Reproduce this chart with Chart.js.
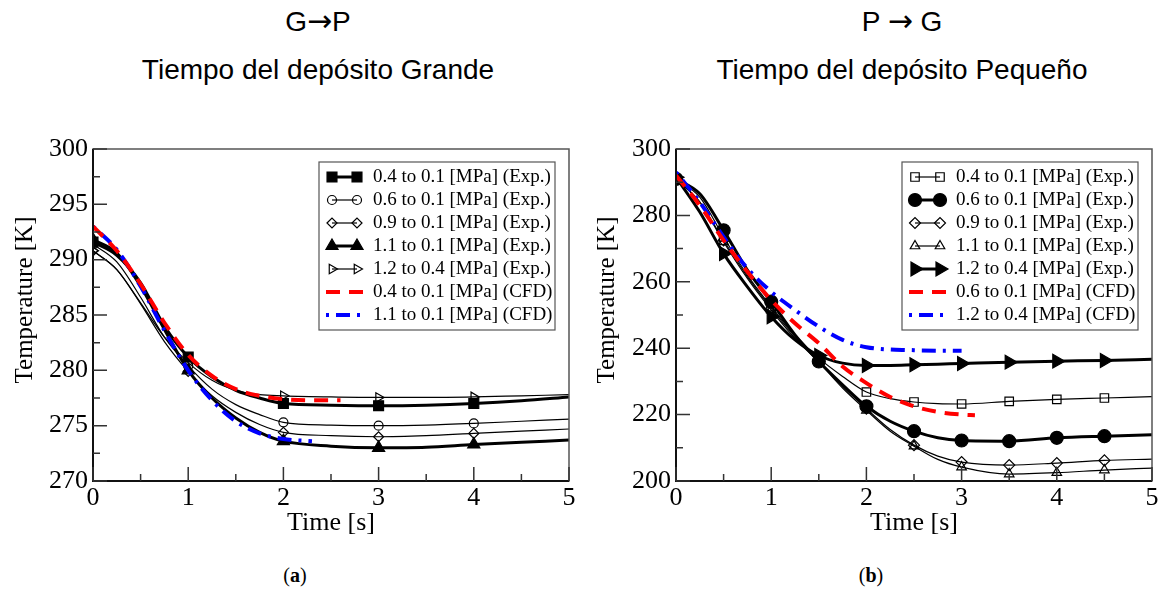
<!DOCTYPE html>
<html>
<head>
<meta charset="utf-8">
<script src="https://cdn.jsdelivr.net/npm/chart.js@4.4.0/dist/chart.umd.min.js"></script>
<style>
  body { margin: 0; width: 1166px; height: 589px; background: #fff; position: relative; overflow: hidden; }
  .t { position: absolute; font-family: "Liberation Sans", Arial, sans-serif; font-size: 28px; line-height: 28px; color: #000; text-align: center; width: 500px; }
  .arr { font-family: "DejaVu Sans", sans-serif; font-size: 30px; line-height: 0; }
  .sub { position: absolute; font-family: "Liberation Serif", "Times New Roman", serif; font-size: 20px; line-height: 20px; width: 60px; text-align: center; }
  canvas { position: absolute; }
</style>
</head>
<body>
<div class="t" style="left:68px; top:8px;">G<span class="arr">→</span>P</div>
<div class="t" style="left:68px; top:56px;">Tiempo del depósito Grande</div>
<div class="t" style="left:652px; top:8px;">P <span class="arr">→</span> G</div>
<div class="t" style="left:652px; top:56px;">Tiempo del depósito Pequeño</div>
<canvas id="chartA" width="580" height="420" style="left:0; top:120px;"></canvas>
<canvas id="chartB" width="581" height="420" style="left:585px; top:120px;"></canvas>
<div class="sub" style="left:265px; top:565px;">(<b>a</b>)</div>
<div class="sub" style="left:841px; top:565px;">(<b>b</b>)</div>
<script>
// ---- (a) G -> P, time of the big tank ----
const timeA = [0, 0.25, 0.5, 0.75, 1, 1.25, 1.5, 1.75, 2, 2.5, 3, 3.5, 4, 4.5, 5];
const marksA = [0, 1, 2, 3, 4];
const gp04 = [291.6, 290.4, 287.9, 284.0, 281.2, 279.4, 278.2, 277.5, 277.0, 276.85, 276.8, 276.85, 277.0, 277.25, 277.6];
const gp06 = [291.4, 289.8, 286.6, 283.0, 280.4, 278.3, 276.9, 276.0, 275.3, 275.05, 275.0, 275.05, 275.2, 275.4, 275.6];
const gp09 = [290.8, 289.1, 286.0, 282.6, 279.9, 277.7, 276.2, 275.1, 274.4, 274.1, 274.0, 274.1, 274.3, 274.5, 274.7];
const gp11 = [291.8, 290.6, 287.6, 283.7, 280.0, 277.5, 275.7, 274.4, 273.6, 273.15, 273.0, 273.05, 273.3, 273.5, 273.7];
const gp12 = [290.8, 289.1, 286.1, 283.0, 280.7, 279.1, 278.2, 277.8, 277.7, 277.6, 277.55, 277.55, 277.6, 277.7, 277.8];
const timeCfdA04 = [0, 0.25, 0.5, 0.75, 1, 1.25, 1.5, 1.75, 2, 2.3, 2.6];
const gpCfd04 = [293.0, 290.8, 287.8, 284.3, 281.4, 279.5, 278.3, 277.7, 277.4, 277.3, 277.3];
const timeCfdA11 = [0, 0.25, 0.5, 0.75, 1, 1.25, 1.5, 1.75, 2, 2.3];
const gpCfd11 = [293.0, 290.9, 287.6, 283.6, 280.0, 277.3, 275.4, 274.3, 273.8, 273.6];

// ---- (b) P -> G, time of the small tank ----
const timeB = [0, 0.25, 0.5, 0.75, 1, 1.25, 1.5, 1.75, 2, 2.25, 2.5, 2.75, 3, 3.5, 4, 4.5, 5];
const marksB = [0, 0.5, 1, 1.5, 2, 2.5, 3, 3.5, 4, 4.5];
const pg04 = [291.0, 285.5, 273.5, 262.0, 252.5, 244.0, 237.0, 231.5, 226.8, 224.8, 223.8, 223.3, 223.2, 224.0, 224.6, 225.0, 225.4];
const pg06 = [291.0, 286.5, 275.5, 263.5, 254.0, 244.0, 236.0, 229.0, 222.5, 218.0, 215.0, 213.0, 212.2, 212.0, 213.0, 213.5, 213.9];
const pg09 = [291.0, 284.0, 272.5, 261.5, 252.0, 243.5, 236.0, 228.5, 221.8, 215.5, 210.8, 207.5, 205.7, 204.8, 205.4, 206.2, 206.6];
const pg11 = [291.0, 284.0, 272.0, 261.0, 251.5, 243.0, 235.8, 228.0, 221.3, 215.0, 210.5, 206.5, 204.2, 202.1, 202.5, 203.3, 203.9];
const pg12 = [291.5, 281.0, 268.5, 258.5, 249.5, 242.5, 237.8, 235.5, 234.8, 234.8, 235.0, 235.2, 235.4, 235.8, 236.1, 236.3, 236.7];
const timeCfdB06 = [0, 0.25, 0.5, 0.75, 1, 1.25, 1.5, 1.75, 2, 2.25, 2.5, 2.75, 3, 3.14];
const pgCfd06 = [292.0, 283.0, 272.5, 263.0, 254.5, 247.5, 241.5, 234.5, 229.5, 225.3, 222.5, 220.8, 220.0, 219.8];
const timeCfdB12 = [0, 0.25, 0.5, 0.75, 1, 1.25, 1.5, 1.75, 2, 2.5, 3];
const pgCfd12 = [293.0, 284.0, 273.5, 264.0, 257.0, 251.5, 246.5, 242.5, 240.3, 239.4, 239.2];

const serif = "'Liberation Serif', 'Times New Roman', serif";

function pts(times, temps) {
  return times.map((t, i) => ({ x: t, y: temps[i] }));
}

// experimental curve: black line, markers only at the sampled times
function exp(label, times, temps, marks, shape, r, filled, thick, rot) {
  return {
    label: label,
    data: pts(times, temps),
    borderColor: '#000',
    borderWidth: thick ? 3 : 1.2,
    pointStyle: shape,
    pointRotation: rot || 0,
    pointRadius: c => (c.raw && marks.includes(c.raw.x)) ? r : 0,
    pointBackgroundColor: filled ? '#000' : 'rgba(0,0,0,0)',
    pointBorderColor: '#000',
    pointBorderWidth: 1.2,
    cubicInterpolationMode: 'monotone',
    order: 1,
    markR: r
  };
}

function cfd(label, times, temps, color, dash) {
  return {
    label: label,
    data: pts(times, temps),
    borderColor: color,
    borderWidth: 4,
    borderDash: dash,
    pointRadius: 0,
    cubicInterpolationMode: 'monotone',
    order: 0
  };
}

// frame, inward ticks, axis title and legend box
const extras = {
  id: 'extras',
  afterDraw(chart, args, o) {
    const { ctx, chartArea: a, scales: { x, y } } = chart;
    ctx.save();
    ctx.strokeStyle = '#555';
    ctx.lineWidth = 1.5;
    ctx.strokeRect(a.left, a.top, a.right - a.left, a.bottom - a.top);
    ctx.strokeStyle = '#111';
    ctx.lineWidth = 2;
    ctx.beginPath();
    ctx.moveTo(a.left, a.top); ctx.lineTo(a.left, a.bottom); ctx.lineTo(a.right, a.bottom);
    ctx.stroke();

    ctx.lineWidth = 1.5;
    ctx.strokeStyle = '#333';
    ctx.beginPath();
    for (let v = x.min; v <= x.max + 1e-9; v += o.xMinor) {
      const major = Math.abs(v / o.xMajor - Math.round(v / o.xMajor)) < 1e-6;
      const px = x.getPixelForValue(v);
      ctx.moveTo(px, a.bottom); ctx.lineTo(px, a.bottom - (major ? 14 : 7));
    }
    for (let v = y.min; v <= y.max + 1e-9; v += o.yMinor) {
      const major = Math.abs(v / o.yMajor - Math.round(v / o.yMajor)) < 1e-6;
      const py = y.getPixelForValue(v);
      ctx.moveTo(a.left, py); ctx.lineTo(a.left + (major ? 14 : 7), py);
    }
    ctx.stroke();

    // y title
    ctx.save();
    ctx.translate(o.yTitleX, o.yTitleY);
    ctx.rotate(-Math.PI / 2);
    ctx.fillStyle = '#000';
    ctx.font = "25px " + serif;
    ctx.textAlign = 'center';
    ctx.textBaseline = 'middle';
    ctx.fillText('Temperature [K]', 0, 0);
    ctx.restore();

    // legend
    const bx = a.right - 250, bw = 236, by = a.top + 13, bh = 168;
    ctx.fillStyle = '#fff';
    ctx.fillRect(bx, by, bw, bh);
    ctx.strokeStyle = '#555';
    ctx.lineWidth = 1.2;
    ctx.strokeRect(bx, by, bw, bh);
    ctx.font = "19px " + serif;
    ctx.textBaseline = 'middle';
    ctx.textAlign = 'left';
    chart.data.datasets.forEach((ds, i) => {
      const ly = a.top + 28 + i * 23;
      const x1 = a.right - 237, x2 = a.right - 212;
      ctx.save();
      ctx.strokeStyle = ds.borderColor;
      ctx.lineWidth = ds.borderWidth;
      if (ds.borderDash) ctx.setLineDash(ds.borderDash);
      ctx.beginPath();
      ctx.moveTo(ds.markR ? x1 : x1 - 6, ly);
      ctx.lineTo(ds.markR ? x2 : x2 + 8, ly);
      ctx.stroke();
      ctx.restore();
      if (ds.markR && Chart.helpers && Chart.helpers.drawPoint) {
        ctx.save();
        ctx.fillStyle = ds.pointBackgroundColor;
        ctx.strokeStyle = '#000';
        ctx.lineWidth = 1.2;
        [x1, x2].forEach(px => Chart.helpers.drawPoint(ctx, {
          pointStyle: ds.pointStyle, rotation: ds.pointRotation, radius: ds.markR, borderWidth: 1.2
        }, px, ly));
        ctx.restore();
      }
      ctx.fillStyle = '#000';
      ctx.fillText(ds.label, a.right - 196, ly);
    });
    ctx.restore();
  }
};

function axes(yMin, yMax, yStep, yWidth) {
  const tickFont = { family: serif, size: 26 };
  return {
    x: {
      type: 'linear', min: 0, max: 5,
      ticks: { stepSize: 1, padding: 2, color: '#000', font: tickFont },
      grid: { display: false, drawTicks: false },
      border: { display: false },
      title: { display: true, text: 'Time [s]', color: '#000', font: { family: serif, size: 26 }, padding: { top: 0, bottom: 1 } },
      afterFit: s => { s.height = 59; }
    },
    y: {
      min: yMin, max: yMax,
      ticks: { stepSize: yStep, padding: 5, color: '#000', font: tickFont },
      grid: { display: false, drawTicks: false },
      border: { display: false },
      afterFit: s => { s.width = yWidth; }
    }
  };
}

new Chart(document.getElementById('chartA'), {
  type: 'line',
  data: {
    datasets: [
      exp('0.4 to 0.1 [MPa] (Exp.)', timeA, gp04, marksA, 'rect', 7, true, true),
      exp('0.6 to 0.1 [MPa] (Exp.)', timeA, gp06, marksA, 'circle', 4.5, false, false),
      exp('0.9 to 0.1 [MPa] (Exp.)', timeA, gp09, marksA, 'rectRot', 5, false, false),
      exp('1.1 to 0.1 [MPa] (Exp.)', timeA, gp11, marksA, 'triangle', 7, true, true),
      exp('1.2 to 0.4 [MPa] (Exp.)', timeA, gp12, marksA, 'triangle', 5.5, false, false, 90),
      cfd('0.4 to 0.1 [MPa] (CFD)', timeCfdA04, gpCfd04, '#ff0000', [14, 9]),
      cfd('1.1 to 0.1 [MPa] (CFD)', timeCfdA11, gpCfd11, '#0000ff', [3, 7, 14, 7])
    ]
  },
  options: {
    responsive: false,
    animation: false,
    events: [],
    layout: { padding: { top: 29, right: 11, left: 0, bottom: 0 } },
    scales: axes(270, 300, 5, 93),
    plugins: {
      legend: { display: false },
      tooltip: { enabled: false },
      extras: { xMinor: 0.5, xMajor: 1, yMinor: 2.5, yMajor: 5, yTitleX: 25, yTitleY: 180 }
    }
  },
  plugins: [extras]
});

new Chart(document.getElementById('chartB'), {
  type: 'line',
  data: {
    datasets: [
      exp('0.4 to 0.1 [MPa] (Exp.)', timeB, pg04, marksB, 'rect', 6, false, false),
      exp('0.6 to 0.1 [MPa] (Exp.)', timeB, pg06, marksB, 'circle', 6.5, true, true),
      exp('0.9 to 0.1 [MPa] (Exp.)', timeB, pg09, marksB, 'rectRot', 5.5, false, false),
      exp('1.1 to 0.1 [MPa] (Exp.)', timeB, pg11, marksB, 'triangle', 5.5, false, false),
      exp('1.2 to 0.4 [MPa] (Exp.)', timeB, pg12, marksB, 'triangle', 8, true, true, 90),
      cfd('0.6 to 0.1 [MPa] (CFD)', timeCfdB06, pgCfd06, '#ff0000', [14, 9]),
      cfd('1.2 to 0.4 [MPa] (CFD)', timeCfdB12, pgCfd12, '#0000ff', [3, 7, 14, 7])
    ]
  },
  options: {
    responsive: false,
    animation: false,
    events: [],
    layout: { padding: { top: 29, right: 14, left: 0, bottom: 0 } },
    scales: axes(200, 300, 20, 91),
    plugins: {
      legend: { display: false },
      tooltip: { enabled: false },
      extras: { xMinor: 0.5, xMajor: 1, yMinor: 10, yMajor: 20, yTitleX: 22, yTitleY: 180 }
    }
  },
  plugins: [extras]
});
</script>
</body>
</html>
